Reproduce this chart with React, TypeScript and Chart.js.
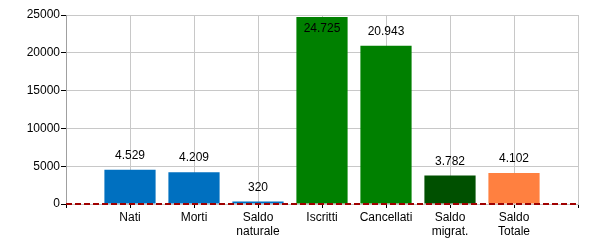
import React, { useEffect, useRef } from "react";
import { Chart, registerables } from "chart.js";

Chart.register(...registerables);

const categories: (string | string[])[] = [
  "",
  "Nati",
  "Morti",
  ["Saldo", "naturale"],
  "Iscritti",
  "Cancellati",
  ["Saldo", "migrat."],
  ["Saldo", "Totale"],
  "",
];
const values: (number | null)[] = [null, 4529, 4209, 320, 24725, 20943, 3782, 4102, null];
const barColors = ["#0070C0", "#0070C0", "#0070C0", "#0070C0", "#008000", "#008000", "#005000", "#FF8040", "#0070C0"];
const zeroLine: number[] = [0, 0, 0, 0, 0, 0, 0, 0, 0];
const yMax = 25000;
const yStep = 5000;

const FONT = "Arial, 'Liberation Sans', sans-serif";

function fmt(v: number): string {
  return String(v).replace(/\B(?=(\d{3})+(?!\d))/g, ".");
}

const labelPlugin = {
  id: "valueLabels",
  afterDatasetsDraw(chart: any) {
    const meta = chart.getDatasetMeta(0);
    const ctx = chart.ctx;
    const area = chart.chartArea;
    ctx.save();
    ctx.font = `12px ${FONT}`;
    ctx.fillStyle = "#000";
    ctx.textAlign = "center";
    ctx.textBaseline = "middle";
    meta.data.forEach((el: any, i: number) => {
      const v = values[i];
      if (v == null) return;
      let y = el.y - 14;
      if (y - 6 < area.top) y = el.y + 12;
      ctx.fillText(fmt(v), el.x, y);
    });
    ctx.restore();
  },
};

export default function App() {
  const ref = useRef<HTMLCanvasElement | null>(null);
  useEffect(() => {
    document.body.style.margin = "0";
    if (!ref.current) return;
    const chart = new Chart(ref.current, {
      type: "bar",
      data: {
        labels: categories as any,
        datasets: [
          {
            type: "bar",
            data: values as any,
            backgroundColor: barColors,
            categoryPercentage: 1,
            barPercentage: 0.8,
            order: 2,
          },
          {
            type: "line",
            data: zeroLine,
            borderColor: "#A00000",
            borderWidth: 2,
            borderDash: [6, 3],
            pointRadius: 0,
            fill: false,
            clip: false,
            order: 0,
          } as any,
        ],
      },
      options: {
        animation: false,
        responsive: false,
        maintainAspectRatio: false,
        layout: { padding: { top: 15, right: 22, left: 0, bottom: 0 } },
        plugins: { legend: { display: false }, tooltip: { enabled: false } },
        scales: {
          x: {
            offset: false,
            grid: { offset: false, color: "#c8c8c8", tickColor: "#000", tickLength: 4 },
            border: { color: "#c8c8c8" },
            ticks: { color: "#000", font: { size: 12, family: FONT }, padding: 2, maxRotation: 0, autoSkip: false },
            afterFit: (s: any) => {
              s.height = 46;
            },
          },
          y: {
            min: 0,
            max: yMax,
            grid: { color: "#c8c8c8", tickColor: "#000", tickLength: 5 },
            border: { color: "#a0a0a0" },
            ticks: {
              stepSize: yStep,
              color: "#000",
              font: { size: 12, family: FONT },
              padding: 1,
              callback: (v: any) => String(v),
            },
            afterFit: (s: any) => {
              s.width = 66;
            },
          },
        },
      },
      plugins: [labelPlugin],
    });
    return () => chart.destroy();
  }, []);
  return (
    <div style={{ width: 600, height: 250 }}>
      <canvas ref={ref} width={600} height={250} style={{ display: "block" }} />
    </div>
  );
}
